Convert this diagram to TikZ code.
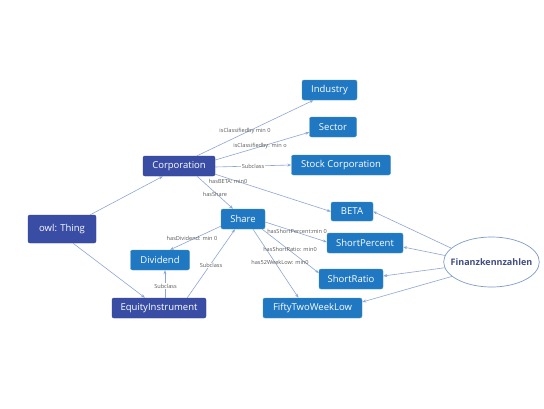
\documentclass[tikz,border=0pt]{standalone}
\usepackage{fontspec}
\setmainfont{Open Sans}
\usetikzlibrary{arrows.meta,shapes.geometric}
\definecolor{darkb}{HTML}{3A4DA5}
\definecolor{lightb}{HTML}{1F78C1}
\definecolor{lightbd}{HTML}{4C9CB8}
\definecolor{edgec}{HTML}{8FA6D2}
\definecolor{lblc}{HTML}{5A5A5A}
\definecolor{ellc}{HTML}{7E9CC6}
\definecolor{elltxt}{HTML}{3F4C7E}
\tikzset{
  box/.style={rectangle, rounded corners=2pt, inner sep=0pt, font=\fontsize{9.5}{11}\selectfont, text=white, minimum height=20pt},
  dbox/.style={box, fill=darkb, draw=darkb!80!black},
  lbox/.style={box, fill=lightb, draw=lightbd},
  conn/.style={draw=edgec, line width=0.6pt, -{Stealth[length=4pt,width=3pt]}},
  lbl/.style={font=\fontsize{5.6}{6}\selectfont, text=lblc, inner sep=0.5pt},
}
\begin{document}
\begin{tikzpicture}[x=1pt,y=-1pt]
\useasboundingbox (0,0) rectangle (544,408);
\fill[white] (0,0) rectangle (544,408);
% nodes
\node[lbox, minimum width=55pt] (ind) at (329.5,90) {Industry};
\node[lbox, minimum width=47pt] (sec) at (333,127) {Sector};
\node[lbox, minimum width=99pt] (stock) at (341,165) {Stock Corporation};
\node[dbox, minimum width=72pt] (corp) at (179,166) {Corporation};
\node[dbox, minimum width=68pt, minimum height=28pt] (owl) at (62,229) {owl: Thing};
\node[lbox, minimum width=44pt] (share) at (243,219) {Share};
\node[lbox, minimum width=59pt] (div) at (160,260) {Dividend};
\node[dbox, minimum width=94pt] (eq) at (159,308) {EquityInstrument};
\node[lbox, minimum width=42pt, minimum height=19pt] (beta) at (352,211.5) {BETA};
\node[lbox, minimum width=76pt] (sp) at (365,243) {ShortPercent};
\node[lbox, minimum width=64pt] (sr) at (351,279) {ShortRatio};
\node[lbox, minimum width=99pt] (ftw) at (312.5,308) {FiftyTwoWeekLow};
\node[ellipse, draw=ellc, line width=0.7pt, fill=white, minimum height=50pt, inner xsep=-7pt, inner ysep=0pt, text=elltxt, font=\fontsize{9}{10}\selectfont\bfseries] (fin) at (491.5,262) {Finanzkennzahlen};
% connectors
\draw[conn] ([xshift=-6pt]owl.north east) -- ([xshift=-16pt]corp.south);
\draw[conn] ([xshift=11pt]owl.south) -- ([xshift=-14pt]eq.north);
\draw[conn] ([xshift=18pt]corp.north) -- ([xshift=-16pt]ind.south);
\draw[conn] ([yshift=6pt]corp.east) -- ([yshift=5pt]sec.south west);
\draw[conn] ([yshift=-1pt]corp.east) -- (stock.west);
\draw[conn] ([yshift=2pt]corp.south east) -- (beta.west);
\draw[conn] ([xshift=18pt]corp.south) -- ([xshift=-10pt]share.north);
\draw[conn] ([yshift=3pt]share.south west) -- ([xshift=10pt]div.north);
\draw[conn] ([xshift=6pt]eq.north) -- ([xshift=5pt]div.south);
\draw[conn] ([xshift=-19pt]eq.north east) -- ([xshift=-8pt]share.south);
\draw[conn] ([yshift=-3pt]share.east) -- ([yshift=1pt]sp.west);
\draw[conn] ([xshift=-3pt]share.south east) -- ([yshift=6pt]sr.west);
\draw[conn] ([xshift=10pt]share.south) -- ([xshift=-14pt]ftw.north);
\draw[conn] (fin.161) -- (beta.east);
\draw[conn] (fin.172) -- ([yshift=-4pt]sp.east);
\draw[conn] (fin.187) -- ([yshift=3pt]sr.east);
\draw[conn] (fin.200) -- ([yshift=6pt]ftw.east);
% labels
\node[lbl] (l1) at (245,131) {isClassifiedby min 0};
\node[lbl] (l2) at (260,146) {isClassifiedby: min o};
\node[lbl, fill=white] (l3) at (253,166.5) {Subclass};
\node[lbl] (l4) at (228,181.5) {hasBETA: min0};
\node[lbl] (l5) at (215,194) {hasShare};
\node[lbl] (l6) at (192,238.5) {hasDividend: min 0};
\node[lbl, fill=white] (l7) at (165.5,286) {Subclass};
\node[lbl, fill=white] (l8) at (211,265.5) {Subclass};
\node[lbl] (l9) at (297,231.5) {hasShortPercent:min 0};
\node[lbl] (l10) at (290,249) {hasShortRatio: min0};
\node[lbl] (l11) at (280,262.5) {has52WeekLow: min0};
\end{tikzpicture}
\end{document}
